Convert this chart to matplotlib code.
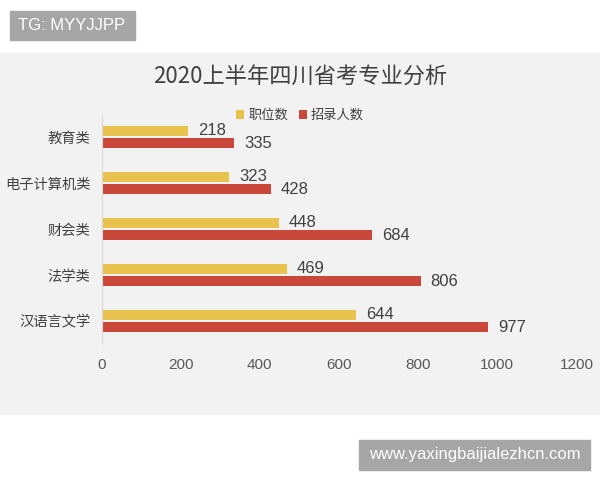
import matplotlib
matplotlib.use("Agg")
import matplotlib.pyplot as plt
from matplotlib.patches import Rectangle
import numpy as np

plt.rcParams['font.family'] = ['Noto Sans CJK SC', 'DejaVu Sans']

# data
categories = ["教育类", "电子计算机类", "财会类", "法学类", "汉语言文学"]
positions = [218, 323, 448, 469, 644]
hires = [335, 428, 684, 806, 977]
series_names = ["职位数", "招录人数"]
xticks = [0, 200, 400, 600, 800, 1000, 1200]

yellow = "#E9C14D"
red = "#C9483A"
panel = "#F2F2F2"
box_gray = "#A6A6A6"

fig = plt.figure(figsize=(6, 4.8), dpi=100)
fig.patch.set_facecolor("white")


def px_rect(x0, y0, x1, y1, color):
    # rectangle given in pixel coords measured from the top-left
    fig.add_artist(Rectangle((x0 / 600, 1 - y1 / 480), (x1 - x0) / 600, (y1 - y0) / 480,
                             transform=fig.transFigure, color=color, zorder=0))


# gray chart panel
px_rect(0, 53, 600, 414, panel)

ax = fig.add_axes([0.1692, 0.2833, 0.7917, 0.4792])
ax.patch.set_alpha(0)

y = np.arange(len(categories))
h = 0.21
off = 0.135
ax.barh(y - off, positions, height=h, color=yellow, label=series_names[0])
ax.barh(y + off, hires, height=h, color=red, label=series_names[1])

for yi, v in zip(y, positions):
    ax.text(v + 25, yi - off, str(v), va="center", ha="left",
            fontsize=12, color="#404040", family="Liberation Sans")
for yi, v in zip(y, hires):
    ax.text(v + 25, yi + off, str(v), va="center", ha="left",
            fontsize=12, color="#404040", family="Liberation Sans")

ax.set_xlim(0, 1200)
ax.set_ylim(len(categories) - 0.5, -0.5)
ax.set_yticks(y)
ax.set_yticklabels(categories, fontsize=10.3, color="#404040")
ax.set_xticks(xticks)
ax.set_xticklabels([str(t) for t in xticks], fontsize=11, color="#595959",
                   family="Liberation Sans")
ax.tick_params(length=0)
ax.tick_params(axis="x", pad=10)
ax.tick_params(axis="y", pad=8)
for s in ["top", "right", "bottom"]:
    ax.spines[s].set_visible(False)
ax.spines["left"].set_color("#D9D9D9")

fig.text(0.5, 1 - 77 / 480, "2020上半年四川省考专业分析", ha="center", va="center",
         fontsize=16, color="#404040")

ax.legend(loc="center", bbox_to_anchor=(0.5, 1 - 115.5 / 480), bbox_transform=fig.transFigure,
          ncol=2, frameon=False, fontsize=9.5, handlelength=0.6, handleheight=0.6,
          handletextpad=0.3, columnspacing=0.8, labelcolor="#404040")

# watermark boxes
px_rect(10, 11, 135, 40, box_gray)
fig.text(18 / 600, 1 - 25.5 / 480, "TG: MYYJJPP", ha="left", va="center", fontsize=12,
         color="white", family="Liberation Sans")
px_rect(359, 440, 590, 470, box_gray)
fig.text(474.5 / 600, 1 - 455 / 480, "www.yaxingbaijialezhcn.com", ha="center", va="center",
         fontsize=12, color="white", family="Liberation Sans")

fig.savefig("out.png", dpi=100, facecolor=fig.get_facecolor())
